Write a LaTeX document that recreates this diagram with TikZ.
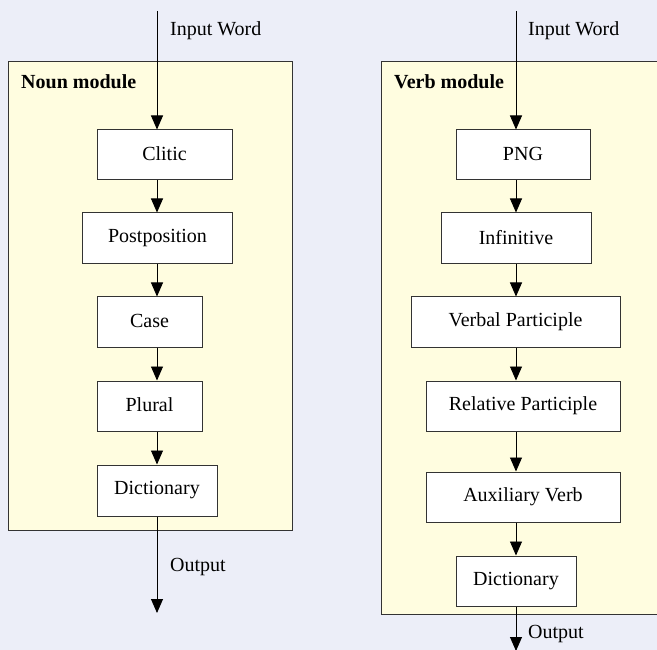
\documentclass[tikz,border=0pt]{standalone}
\usepackage{fontspec}
\setmainfont{Liberation Serif}
\usetikzlibrary{arrows.meta}
\definecolor{bgcol}{HTML}{ECEEF8}
\definecolor{modcol}{HTML}{FFFDE0}
\definecolor{linecol}{HTML}{333333}
\tikzset{
  stagebox/.style={draw=linecol, line width=1pt, fill=white, inner sep=0pt, font=\fontsize{20}{23}\selectfont},
  modbox/.style={draw=linecol, line width=1pt, fill=modcol},
  arr/.style={draw=black, line width=0.9pt, -{Triangle[width=12pt,length=14pt]}},
  lbl/.style={font=\fontsize{20}{23}\selectfont, inner sep=0pt, anchor=west},
  modlbl/.style={font=\fontsize{20}{23}\selectfont\bfseries, inner sep=0pt, anchor=west}
}
\newcommand{\stage}[6]{\node[stagebox, minimum width=#4pt, minimum height=#5pt] (#1) at (#2,#3) {\raisebox{2pt}{#6}};}
\begin{document}
\begin{tikzpicture}[x=1pt,y=-1pt]
\fill[bgcol] (0,0) rectangle (657,650);
\useasboundingbox (0,0) rectangle (657,650);
% modules
\draw[modbox] (8,62) rectangle (292,530);
\draw[modbox] (381,62) rectangle (670,614);
\node[modlbl] (nlab) at (21,82) {Noun module};
\node[modlbl] (vlab) at (394,82) {Verb module};
% noun stages
\coordinate (nin) at (157,11);
\coordinate (nout) at (157,613);
\stage{clitic}{164.5}{155}{135}{50}{Clitic}
\stage{post}{157.5}{238.5}{150}{51}{Postposition}
\stage{case}{149.5}{322}{105}{50}{Case}
\stage{plural}{149.5}{406}{105}{50}{Plural}
\stage{ndict}{157}{490.5}{120}{51}{Dictionary}
\draw[arr] (nin) -- (clitic.north -| nin);
\draw[arr] (clitic.south -| nin) -- (post.north -| nin);
\draw[arr] (post.south -| nin) -- (case.north -| nin);
\draw[arr] (case.south -| nin) -- (plural.north -| nin);
\draw[arr] (plural.south -| nin) -- (ndict.north -| nin);
\draw[arr] (ndict.south -| nin) -- (nout);
\node[lbl] (nintext) at (170,31) {Input Word};
\node[lbl] (nouttext) at (170,567) {Output};
% verb stages
\coordinate (vin) at (516,11);
\coordinate (vout) at (516,651);
\stage{png}{523}{155}{134}{50}{PNG}
\stage{inf}{516}{238.5}{150}{51}{Infinitive}
\stage{vpart}{515.5}{322}{209}{50}{Verbal Participle}
\stage{rpart}{523}{406}{194}{50}{Relative Participle}
\stage{aux}{523}{497}{194}{50}{Auxiliary Verb}
\stage{vdict}{516}{581}{120}{50}{Dictionary}
\draw[arr] (vin) -- (png.north -| vin);
\draw[arr] (png.south -| vin) -- (inf.north -| vin);
\draw[arr] (inf.south -| vin) -- (vpart.north -| vin);
\draw[arr] (vpart.south -| vin) -- (rpart.north -| vin);
\draw[arr] (rpart.south -| vin) -- (aux.north -| vin);
\draw[arr] (aux.south -| vin) -- (vdict.north -| vin);
\draw[arr] (vdict.south -| vin) -- (vout);
\node[lbl] (vintext) at (528,31) {Input Word};
\node[lbl] (vouttext) at (528,634) {Output};
\end{tikzpicture}
\end{document}
